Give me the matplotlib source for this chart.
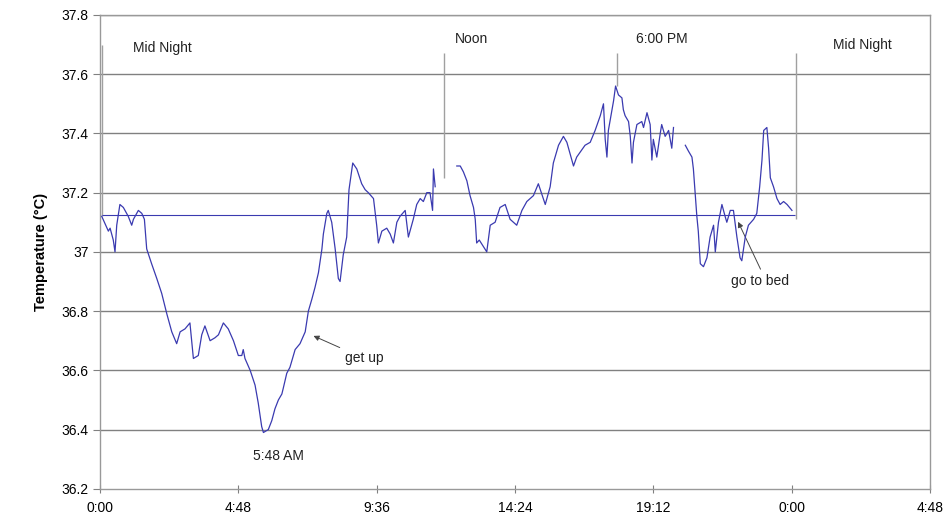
import matplotlib.pyplot as plt
import numpy as np

nan = float('nan')

# hours since midnight, temperature (deg C)
time_h = [0.06, 0.29, 0.35, 0.46, 0.52, 0.58, 0.69, 0.81, 0.98, 1.10, 1.16, 1.33, 1.45, 1.54,
          1.62, 1.79, 1.97, 2.14, 2.32, 2.49, 2.66, 2.78, 2.95, 3.12, 3.24, 3.41, 3.53, 3.64,
          3.82, 3.99, 4.11, 4.28, 4.45, 4.63, 4.80, 4.92, 4.97, 5.03, 5.21, 5.38, 5.49, 5.61,
          5.67, 5.84, 5.96, 6.07, 6.19, 6.31, 6.36, 6.48, 6.59, 6.77, 6.94, 7.12, 7.23, 7.35,
          7.46, 7.58, 7.70, 7.75, 7.87, 7.92, 8.04, 8.16, 8.27, 8.33, 8.44, 8.56, 8.64, 8.77,
          8.91, 9.08, 9.20, 9.31, 9.49, 9.60, 9.66, 9.78, 9.95, 10.07, 10.18, 10.30, 10.41,
          10.59, 10.70, 10.87, 10.99, 11.11, 11.22, 11.34, 11.45, 11.54, 11.57, 11.63, 12.0,
          12.38, 12.50, 12.61, 12.73, 12.84, 12.96, 13.02, 13.07, 13.16, 13.42, 13.54, 13.71,
          13.88, 14.06, 14.23, 14.46, 14.64, 14.81, 15.04, 15.21, 15.45, 15.62, 15.73, 15.91,
          16.08, 16.20, 16.43, 16.54, 16.83, 17.01, 17.18, 17.36, 17.47, 17.53, 17.59, 17.64,
          17.82, 17.89, 17.99, 18.11, 18.16, 18.22, 18.34, 18.40, 18.46, 18.51, 18.63, 18.80,
          18.86, 18.98, 19.09, 19.15, 19.20, 19.32, 19.44, 19.49, 19.61, 19.73, 19.84, 19.90,
          20.1, 20.31, 20.42, 20.54, 20.59, 20.65, 20.71, 20.76, 20.83, 20.94, 21.06, 21.17,
          21.29, 21.35, 21.46, 21.58, 21.69, 21.75, 21.87, 21.98, 22.10, 22.21, 22.27, 22.39,
          22.50, 22.68, 22.79, 22.89, 22.97, 23.03, 23.14, 23.20, 23.26, 23.37, 23.49, 23.60,
          23.72, 23.84, 24.01]
temp_c = [37.12, 37.07, 37.08, 37.04, 37.00, 37.09, 37.16, 37.15, 37.12, 37.09, 37.11, 37.14, 37.13, 37.11,
          37.01, 36.96, 36.91, 36.86, 36.79, 36.73, 36.69, 36.73, 36.74, 36.76, 36.64, 36.65, 36.72, 36.75,
          36.70, 36.71, 36.72, 36.76, 36.74, 36.70, 36.65, 36.65, 36.67, 36.64, 36.60, 36.55, 36.49, 36.41,
          36.39, 36.40, 36.43, 36.47, 36.50, 36.52, 36.54, 36.59, 36.61, 36.67, 36.69, 36.73, 36.80, 36.84,
          36.88, 36.93, 37.01, 37.06, 37.13, 37.14, 37.10, 37.01, 36.91, 36.90, 36.99, 37.05, 37.21, 37.30,
          37.28, 37.23, 37.21, 37.20, 37.18, 37.09, 37.03, 37.07, 37.08, 37.06, 37.03, 37.10, 37.12,
          37.14, 37.05, 37.11, 37.16, 37.18, 37.17, 37.20, 37.20, 37.14, 37.28, 37.22, nan,
          37.29, 37.29, 37.27, 37.24, 37.19, 37.15, 37.11, 37.03, 37.04, 37.00, 37.09, 37.10,
          37.15, 37.16, 37.11, 37.09, 37.14, 37.17, 37.19, 37.23, 37.16, 37.22, 37.30, 37.36,
          37.39, 37.37, 37.29, 37.32, 37.36, 37.37, 37.41, 37.46, 37.50, 37.38, 37.32, 37.41,
          37.51, 37.56, 37.53, 37.52, 37.48, 37.46, 37.44, 37.39, 37.30, 37.37, 37.43, 37.44,
          37.42, 37.47, 37.43, 37.31, 37.38, 37.32, 37.40, 37.43, 37.39, 37.41, 37.35, 37.42,
          nan, 37.36, 37.34, 37.32, 37.28, 37.20, 37.12, 37.07, 36.96, 36.95, 36.98, 37.05,
          37.09, 37.00, 37.10, 37.16, 37.12, 37.10, 37.14, 37.14, 37.05, 36.98, 36.97, 37.05,
          37.09, 37.11, 37.13, 37.22, 37.31, 37.41, 37.42, 37.35, 37.25, 37.22, 37.18, 37.16,
          37.17, 37.16, 37.14]

# marker lines: time, top, bottom
marker_time = [0.07, 11.94, 17.95, 24.16]
marker_top = [37.70, 37.67, 37.67, 37.67]
marker_bottom = [37.12, 37.25, 37.56, 37.11]
marker_text = ['Mid Night', 'Noon', '6:00 PM', 'Mid Night']
marker_text_x = [1.15, 12.3, 18.6, 25.45]
marker_text_y = [37.69, 37.72, 37.72, 37.70]

baseline = 37.125

xtick_pos = [0, 4.8, 9.6, 14.4, 19.2, 24.0, 28.8]
xtick_labels = ['0:00', '4:48', '9:36', '14:24', '19:12', '0:00', '4:48']
ytick_pos = [36.2, 36.4, 36.6, 36.8, 37.0, 37.2, 37.4, 37.6, 37.8]
ytick_labels = ['36.2', '36.4', '36.6', '36.8', '37', '37.2', '37.4', '37.6', '37.8']

plt.rcParams['font.family'] = ['Liberation Sans', 'DejaVu Sans']

fig = plt.figure(figsize=(9.48, 5.25), dpi=100)
ax = fig.add_axes([0.1055, 0.069, 0.8755, 0.9025])

line_col = '#3a3ab0'
grid_col = '#808080'
note_fs = 10

ax.set_xlim(0, 28.8)
ax.set_ylim(36.2, 37.8)
for y in ytick_pos[1:]:
    ax.axhline(y, color=grid_col, lw=1.0, zorder=1)

ax.hlines(baseline, time_h[0], 24.1, color=line_col, lw=0.8, zorder=3)
ax.vlines(marker_time, marker_bottom, marker_top, color='#a0a0a0', lw=1.0, zorder=2)
ax.plot(time_h, temp_c, color=line_col, lw=0.9, zorder=4)

for tx, ty, s in zip(marker_text_x, marker_text_y, marker_text):
    ax.text(tx, ty, s, fontsize=note_fs, ha='left', va='center', color='#222222')

ax.text(6.2, 36.31, '5:48 AM', fontsize=note_fs, ha='center', va='center', color='#222222')
ax.annotate('get up', xy=(7.32, 36.72), xytext=(8.5, 36.64), fontsize=note_fs,
            ha='left', va='center', color='#222222',
            arrowprops=dict(arrowstyle='-|>', color='#444444', lw=0.7, mutation_scale=8))
ax.annotate('go to bed', xy=(22.1, 37.11), xytext=(21.9, 36.9), fontsize=note_fs,
            ha='left', va='center', color='#222222',
            arrowprops=dict(arrowstyle='-|>', color='#444444', lw=0.7, mutation_scale=8,
                            relpos=(0.55, 1.0)))

ax.set_xticks(xtick_pos)
ax.set_xticklabels(xtick_labels, fontsize=10)
ax.set_yticks(ytick_pos)
ax.set_yticklabels(ytick_labels, fontsize=10)
ax.tick_params(axis='x', direction='inout', length=6, color=grid_col, pad=6)
ax.tick_params(axis='y', direction='out', length=5, color=grid_col, pad=3)
ax.set_ylabel('Temperature (°C)', fontsize=10.5, fontweight='bold', labelpad=10)

for sp in ax.spines.values():
    sp.set_color('#999999')
    sp.set_linewidth(1.0)

fig.savefig('out.png', dpi=100)
